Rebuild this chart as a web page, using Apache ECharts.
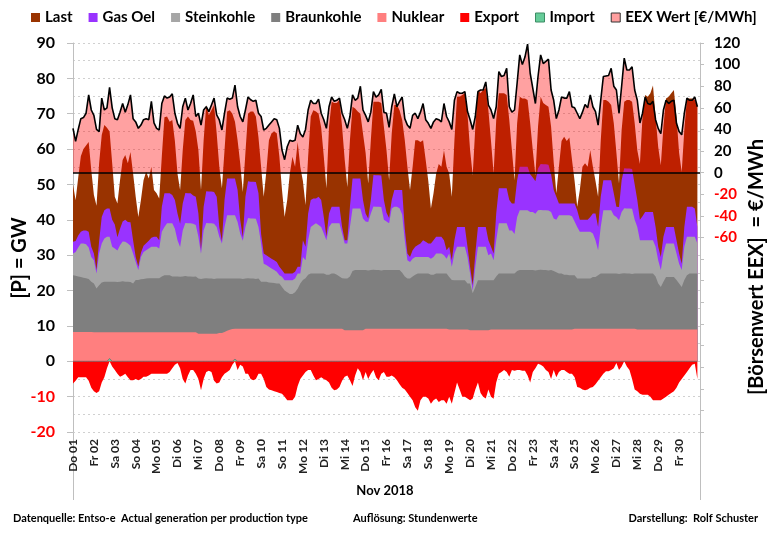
<!DOCTYPE html>
<html><head><meta charset="utf-8">
<script src="https://cdn.jsdelivr.net/npm/echarts@6/dist/echarts.min.js"></script>
<style>html,body{margin:0;padding:0;background:#fff}#c{width:777px;height:540px}</style>
</head><body><div id="c"></div>
<script>
// Day tick labels (November 2018), one per day start
const dayLabels = ['Do 01','Fr 02','Sa 03','So 04','Mo 05','Di 06','Mi 07','Do 08','Fr 09','Sa 10',
  'So 11','Mo 12','Di 13','Mi 14','Do 15','Fr 16','Sa 17','So 18','Mo 19','Di 20',
  'Mi 21','Do 22','Fr 23','Sa 24','So 25','Mo 26','Di 27','Mi 28','Do 29','Fr 30'];

// 3-hourly samples (00,03,06,09,12,15,18,21 h) per day, GW
const nuklear = [
8.3,8.3,8.3,8.3,8.3,8.3,8.3,8.3,
8.2,8.2,8.2,8.2,8.2,8.2,8.2,8.2,
8.2,8.2,8.2,8.2,8.2,8.2,8.2,8.2,
8.2,8.2,8.2,8.2,8.2,8.2,8.2,8.2,
8.2,8.2,8.2,8.2,8.2,8.2,8.2,8.2,
8.2,8.2,8.2,8.2,8.2,8.2,8.2,8.2,
7.8,7.8,7.8,7.8,7.8,7.8,7.8,7.8,
8.0,8.0,8.3,8.6,8.9,9.1,9.2,9.2,
9.2,9.2,9.2,9.2,9.2,9.2,9.2,9.2,
9.2,9.2,9.2,9.2,9.2,9.2,9.2,9.2,
9.2,9.2,9.2,9.2,9.2,9.2,9.2,9.2,
9.2,9.2,9.2,9.2,9.2,9.2,9.2,9.2,
9.2,9.2,9.2,9.2,9.2,9.2,9.2,9.2,
8.8,8.8,8.8,8.8,8.8,8.8,8.8,8.8,
9.2,9.2,9.2,9.2,9.2,9.2,9.2,9.2,
9.2,9.2,9.2,9.2,9.2,9.2,9.2,9.2,
9.2,9.2,9.2,9.2,9.2,9.2,9.2,9.2,
9.2,9.2,9.2,9.2,9.2,9.2,9.2,9.2,
9.0,9.0,9.0,9.0,9.0,9.0,9.0,9.0,
8.8,8.8,8.8,8.8,8.8,8.8,8.8,8.8,
9.0,9.0,9.0,9.0,9.0,9.0,9.0,9.0,
9.0,9.0,9.0,9.0,9.0,9.0,9.0,9.0,
9.0,9.0,9.0,9.0,9.0,9.0,9.0,9.0,
9.0,9.0,9.0,9.0,9.0,9.0,9.0,9.0,
9.2,9.2,9.2,9.2,9.2,9.2,9.2,9.2,
9.2,9.2,9.2,9.2,9.2,9.2,9.2,9.2,
9.2,9.2,9.2,9.2,9.2,9.2,9.2,9.2,
9.0,9.0,9.0,9.0,9.0,9.0,9.0,9.0,
9.0,9.0,9.0,9.0,9.0,9.0,9.0,9.0,
9.0,9.0,9.0,9.0,9.0,9.0,9.0,9.0];

const braunkohle = [
16.0,15.9,15.7,15.5,15.3,15.2,15.0,14.2,
13.8,12.4,13.3,14.1,14.3,14.3,14.3,14.3,
14.3,14.2,14.3,14.4,14.3,14.3,14.2,13.8,
14.8,14.8,15.0,15.1,15.2,15.3,15.3,15.3,
15.3,15.3,15.8,16.1,16.1,16.1,15.8,15.8,
15.8,15.7,15.8,15.9,15.8,15.8,15.7,15.8,
15.6,15.5,15.6,15.7,15.6,15.6,15.5,15.6,
15.4,15.4,15.1,14.8,14.5,14.3,14.2,14.2,
14.2,14.1,14.2,14.3,14.2,14.2,14.1,14.2,
13.3,13.3,13.3,13.1,13.0,12.9,12.8,12.8,
11.8,10.8,10.3,9.8,9.8,10.3,11.3,12.8,
13.8,14.3,15.3,15.6,15.6,15.6,15.6,15.6,
15.6,15.3,15.3,15.6,15.6,15.3,14.8,14.3,
14.6,14.6,15.2,16.7,17.0,17.0,17.0,17.0,
16.6,16.5,16.6,16.7,16.6,16.6,16.5,16.6,
16.6,16.6,16.6,16.6,16.6,16.6,15.8,14.8,
14.2,14.2,14.8,15.3,15.6,15.6,15.6,15.6,
15.6,15.3,15.3,15.6,15.6,15.6,15.6,15.6,
14.8,14.0,13.9,13.9,13.9,13.9,13.9,13.0,
13.2,10.4,12.2,14.1,14.1,14.1,14.1,14.1,
13.9,13.9,15.0,15.8,15.8,15.8,15.8,15.8,
15.8,15.8,16.5,16.8,16.8,16.8,16.8,16.8,
16.8,16.7,16.8,16.9,16.8,16.8,16.7,16.8,
16.5,16.2,15.8,15.8,15.5,15.5,15.3,15.3,
15.1,14.2,14.2,14.2,14.2,14.2,14.2,14.6,
14.6,15.1,15.6,15.6,15.6,15.6,15.6,15.6,
15.6,15.5,15.6,15.7,15.6,15.6,15.5,15.6,
15.8,15.8,15.8,15.8,15.8,15.8,15.8,15.0,
13.0,12.0,13.5,14.8,14.8,14.8,14.8,14.0,
13.0,12.0,14.0,15.3,15.8,15.8,15.8,15.8];

const steinkohle = [
6.2,6.7,8.2,9.5,9.7,9.6,8.9,7.0,
6.6,4.2,9.0,11.0,12.2,12.7,12.7,9.9,
9.4,8.9,10.3,11.3,11.3,10.8,10.3,8.5,
5.1,2.8,6.3,7.6,8.0,8.4,8.9,8.9,
8.9,8.4,12.6,13.7,14.7,14.7,15.0,13.5,
10.2,8.4,13.0,15.0,15.0,15.0,15.0,14.5,
11.8,7.1,13.6,15.6,15.6,15.6,15.6,14.6,
11.8,9.9,14.6,17.9,17.9,17.9,17.9,16.0,
12.7,10.8,14.6,17.0,17.0,17.0,17.0,14.6,
10.8,5.1,4.7,4.4,4.0,3.7,3.3,2.3,
2.9,2.9,3.4,3.9,3.9,3.9,4.3,2.8,
6.5,5.1,9.7,13.2,13.7,14.2,13.7,13.2,
11.3,9.7,13.5,14.2,14.2,14.5,15.0,12.6,
9.9,9.9,14.0,17.7,17.4,17.4,17.4,14.6,
13.7,13.7,16.0,17.9,17.9,17.9,17.9,14.2,
13.7,13.2,17.4,17.9,17.9,17.5,16.5,10.2,
5.2,4.7,5.0,5.0,4.7,4.7,4.7,4.7,
4.7,4.5,5.0,5.7,5.7,5.7,5.2,4.2,
6.7,3.7,7.6,9.5,9.5,9.5,9.5,7.5,
2.8,0.8,5.7,9.5,9.5,9.5,9.5,7.1,
7.6,5.7,10.2,14.2,14.2,14.2,14.2,12.2,
12.2,11.2,15.3,16.9,16.9,16.9,16.9,16.4,
16.4,16.0,16.9,16.9,16.9,16.9,16.9,16.4,
14.9,14.8,16.5,16.5,16.8,16.8,17.0,16.7,
15.2,14.6,13.2,13.2,13.2,13.2,13.2,12.3,
10.4,7.1,13.2,17.9,17.9,17.9,17.9,16.5,
16.0,15.2,17.4,18.4,18.4,18.4,18.4,15.2,
13.2,9.4,9.4,9.4,9.4,9.4,9.4,8.4,
6.6,4.8,8.0,9.5,9.5,9.5,9.5,7.5,
5.6,4.8,9.4,10.9,10.4,10.4,10.4,8.5];

const gasOel = [
3.3,3.1,3.4,3.3,3.7,3.9,4.4,2.9,
1.9,1.0,3.5,7.5,8.0,8.0,8.0,7.6,
6.8,3.8,4.7,5.6,6.2,6.1,6.6,3.7,
1.4,1.0,1.2,1.8,2.0,2.2,2.5,2.8,
2.8,2.3,7.1,9.5,8.5,8.5,8.0,8.1,
7.6,6.6,7.6,8.5,8.5,8.5,8.0,8.0,
6.6,0.9,6.7,9.0,9.0,9.0,9.0,8.5,
2.8,0.7,7.6,10.4,10.4,10.4,10.4,9.0,
3.9,1.0,8.5,10.4,10.4,10.4,10.4,9.5,
2.7,2.9,2.8,2.8,2.8,2.8,2.8,2.4,
1.9,1.9,1.9,1.9,1.9,1.9,1.9,1.9,
4.7,3.8,7.6,7.6,7.5,7.0,8.0,7.6,
4.7,1.0,3.8,4.7,4.7,4.7,4.7,1.9,
0.9,0.9,5.7,8.5,8.5,8.5,8.5,5.2,
2.3,1.0,3.8,8.9,8.9,8.9,8.9,5.6,
2.5,1.5,2.4,4.7,4.7,5.1,6.9,3.3,
1.9,1.4,2.4,2.9,3.4,3.8,4.7,4.3,
3.8,4.3,4.7,4.7,4.7,4.7,4.2,2.4,
1.9,1.9,3.7,5.6,5.6,5.6,5.6,2.9,
1.9,1.5,3.8,5.6,5.6,5.6,5.6,4.2,
1.9,1.9,7.6,9.9,9.9,9.9,9.9,8.6,
7.6,8.6,10.4,12.3,12.3,12.3,12.3,10.7,
9.8,9.2,11.8,13.0,13.0,13.0,13.0,10.7,
8.0,6.5,3.3,3.3,3.3,3.3,3.3,3.6,
5.1,4.7,3.4,3.4,3.4,3.4,4.2,5.7,
7.6,6.6,8.5,8.5,8.5,8.5,8.5,6.2,
2.9,3.7,9.0,11.3,11.3,11.3,11.3,10.0,
7.6,5.8,6.8,8.0,8.0,8.0,8.0,5.6,
3.8,3.7,4.7,4.7,4.7,4.7,4.7,3.7,
2.9,1.8,5.6,8.5,8.5,8.5,8.0,4.7];

// Total load (Last), GW
const last = [
50,45.5,52,58,60,61,62,54,
47,44,56,64,66.8,66,65,56,
46.5,44.6,51.2,56.9,58.3,56,59.2,53.1,
46.5,40.8,45.6,51.2,53.6,51.7,55,48.4,
47.5,46,58,69,69.2,67.7,68.2,62.3,
53,48.4,59.7,68.2,69.2,68.2,68,65,
59.7,48.4,62.5,72.5,69.6,71,72.5,64.4,
55,48.9,59.7,70.6,71,70,67.7,62.5,
56,47.9,59,70,70.6,70.6,69.2,63.3,
55,46.5,53.6,62.5,64.5,65,64.5,57.8,
48.4,40.8,45.6,53.1,57.8,55,62,55,
51,44.2,57.8,69.2,71,70.6,70,66,
57.8,48.9,66.3,73.4,73,73,73.9,66.3,
57,49.3,62.5,72,71.5,70.6,70,64.4,
59,50.3,62.5,73.4,73.4,73.4,73,66.3,
59.7,51.2,64.4,72.5,72.5,71,68.2,62.5,
55,48.4,55,62.5,62.5,62,62.5,56.9,
51,43.2,47.5,53,55.8,55,59.7,55,
53.1,46.5,62.5,74.8,74.8,75.3,75.8,70,
59.7,52.6,66.3,76.7,75.8,76.7,77.2,71,
62.3,53.1,68.2,75.8,75.8,75.8,75.3,68.2,
59.7,51.2,67.3,74.8,74.3,74.3,73.9,67.3,
59.7,52.5,66.3,74.8,73,72.5,72,66.3,
56.3,47.5,55,62.3,63.5,62.3,63.3,57,
51,43.7,48.4,55,56,55,59.7,55,
51,46.5,62.3,73.9,73.9,73.4,72.5,67.3,
59,50.3,65.4,73.4,73.9,73.9,73.4,67.3,
59.7,55.8,69.2,75.3,74.8,75.8,78,69.2,
60.6,55.4,66.3,74.3,74.8,75.8,76.7,69.2,
59,53.5,65.4,74.3,74.3,74.3,73.9,72];

// Export (negative), GW
const exportGW = [
-6.3,-5.5,-4.5,-4.5,-4.5,-4.5,-5.5,-7.5,
-8.5,-9,-8.5,-6,-4.5,-2,0,-1.5,
-2.5,-3.5,-4.4,-4,-3.5,-4.5,-5.4,-5.4,
-5,-5.4,-5,-4.4,-4.4,-4,-3.5,-3.5,
-3.5,-3.5,-3.5,-3.5,-3.5,-3,-2,-1,
-0.5,-2,-5,-6.3,-4,-2.5,-2.5,-3.5,
-5,-8.2,-5,-3,-2.7,-3,-5.5,-6.3,
-6,-4.5,-3.5,-3,-2.5,-1,0,-2.5,
-1,-1.5,-3.5,-3.5,-5,-5.4,-5,-3.5,
-3.5,-5,-7.3,-8,-8.2,-8.5,-8.7,-9,
-9.2,-10,-11,-11,-11,-10,-7,-5,
-4,-3,-2.5,-2.5,-4,-5.4,-5,-4.5,
-5,-5.4,-6,-7.5,-8.2,-8,-7.3,-5.5,
-4.4,-4,-5.4,-7,-4,-2,-3,-5.4,
-3,-5,-3.5,-2.5,-4.5,-5.4,-3.5,-3,
-4.4,-4.4,-4,-4.5,-5.4,-6.5,-7.5,-8,
-9,-10,-11,-13,-14,-11,-10,-10,
-10.5,-12,-11,-10.5,-11.5,-11,-11,-12,
-10,-12,-9,-6,-8,-10,-10,-10.5,
-11,-10.5,-8,-6,-9,-10,-10.5,-8,
-10,-10.6,-6,-3.5,-3,-2.5,-3,-4.4,
-2.5,-2.7,-2.5,-2.5,-2.7,-2.7,-4,-6,
-3,-2,-0.7,-1,-1.5,-2.5,-3,-5,
-2.5,-4.5,-3,-2.5,-2.5,-3,-3.5,-3.5,
-4.5,-7.3,-7.5,-8,-8.2,-8,-7.5,-7.3,
-6.5,-5.5,-4.5,-3.5,-2.8,-2.8,-2.5,-2,
-0.5,-2.5,-1.5,0,-1.5,-2.5,-5,-8,
-8.5,-9.2,-9.5,-9.5,-9.5,-10,-11,-11,
-11,-11,-10.5,-10,-9.5,-9,-8.5,-7.5,
-6,-5,-4,-3,-2,-1,-0.7,-5];

// Import (positive), GW
const importGW = [
0,0,0,0,0,0,0,0,
0,0,0,0,0,0,0.8,0,
0,0,0,0,0,0,0,0,
0,0,0,0,0,0,0,0,
0,0,0,0,0,0,0,0,
0,0,0,0,0,0,0,0,
0,0,0,0,0,0,0,0,
0,0,0,0,0,0,0.6,0,
0,0,0,0,0,0,0,0,
0,0,0,0,0,0,0,0,
0,0,0,0,0,0,0,0,
0,0,0,0,0,0,0,0,
0,0,0,0,0,0,0,0,
0,0,0,0,0,0,0,0,
0,0,0,0,0,0,0,0,
0,0,0,0,0,0,0,0,
0,0,0,0,0,0,0,0,
0,0,0,0,0,0,0,0,
0,0,0,0,0,0,0,0,
0,0,0,0,0,0,0,0,
0,0,0,0,0,0,0,0,
0,0,0,0,0,0,0,0,
0,0,0,0,0,0,0,0,
0,0,0,0,0,0,0,0,
0,0,0,0,0,0,0,0,
0,0,0,0,0,0,0,0,
0,0,0,0,0,0,0,0,
0,0,0,0,0,0,0,0,
0,0,0,0,0,0,0,0,
0,0,0,0,0,0,0,0];

// EEX spot price, EUR/MWh
const eexWert = [
41,29,40,50,51,55,72,58,
53,40,38,69,58,60,79,60,
50,49,56,64,56,63,72,50,
47,41,44,49,50,49,66,46,
41,39.5,64,71,69,70,73,55,
45.7,41,61,69,58,64,72,52,
55,44,58,61,56.5,62.7,69,53.4,
48.8,39.5,55,69,68,69,81,61,
52,47,58,70,67.5,66,67,55,
52,39.5,41,44,47,50,49,41,
21,12,24,30,29,30,44,36,
33,40,58,67,64,64,68,55,
49,41,61,70,66,67,69,55,
49,41,52,72,67,69,80,58,
53,47,56,75,70,72,77,56,
55,42,61,73,61,66,70,50,
44,41,53,55,50,56,64,49,
45.7,41,47,50,49,47,64,52,
47,40,67,75,73.5,73.5,75,56.5,
49,40,52,75,76.5,76.5,84,62.6,
58,50,61,93.5,89,90,96.6,61,
56,58,83,109,100,107,119,92,
78,64,89,109,101,103,105,76.5,
67,50,58,70,69,69,75,61,
60,55,50,56,63,60,72,61,
56.5,44,67,89,89.5,90,96.6,80,
76.5,55,80,106,95,95,98,76.5,
67,46,55,70,64,63,66,49,
41,36,58,67,64,66,67,45.7,
38,35,55,69,67,67,70,61];

const FONT = 'Lato, "Liberation Sans", sans-serif';
const STEP_H = 3;
const hours = last.map((_, i) => i * STEP_H);
const pair = arr => arr.map((v, i) => [hours[i], v]);
// cumulative tops of the generation stack (drawn as overlapping areas from 0)
const cum = (...arrs) => arrs[0].map((_, i) => +arrs.reduce((s, a) => s + a[i], 0).toFixed(2));
const topNuk = cum(nuklear);
const topBraun = cum(nuklear, braunkohle);
const topStein = cum(nuklear, braunkohle, steinkohle);
const topGas = cum(nuklear, braunkohle, steinkohle, gasOel);

function areaSeries(name, data, color, z) {
  return {
    name, type: 'line', data: pair(data), symbol: 'none', showSymbol: false,
    lineStyle: { width: 0 }, itemStyle: { color }, areaStyle: { color, opacity: 1 },
    emphasis: { disabled: true }, z: z, silent: true
  };
}

const chart = echarts.init(document.getElementById('c'), null, { renderer: 'canvas' });
chart.setOption({
  animation: false,
  backgroundColor: '#fff',
  textStyle: { fontFamily: FONT },
  legend: {
    top: 5, left: 26, icon: 'rect', itemWidth: 9, itemHeight: 9, itemGap: 16,
    textStyle: { fontSize: 15, fontWeight: 'bold', color: '#000', fontFamily: FONT },
    data: [
      { name: 'Last' }, { name: 'Gas Oel' }, { name: 'Steinkohle' }, { name: 'Braunkohle' },
      { name: 'Nuklear' }, { name: 'Export' },
      { name: 'Import', itemStyle: { color: '#66CC99', borderColor: '#3C8C64', borderWidth: 1 } },
      { name: 'EEX Wert [€/MWh]', itemStyle: { color: '#FF9F9F', borderColor: '#333', borderWidth: 1 } }
    ]
  },
  grid: { left: 73, right: 77, top: 43, bottom: 108, containLabel: false },
  xAxis: {
    type: 'value', min: 0, max: 720, interval: 24,
    axisLine: { show: false }, axisTick: { show: false }, splitLine: { show: false },
    axisLabel: {
      rotate: 90, margin: 7, fontSize: 12, fontWeight: 'bold', color: '#222', fontFamily: FONT,
      formatter: v => dayLabels[Math.round(v / 24)] || ''
    }
  },
  yAxis: [
    {
      type: 'value', min: -20, max: 90, interval: 10,
      axisLine: { show: true, lineStyle: { color: '#BFBFBF' } },
      axisTick: { show: true, length: 6, lineStyle: { color: '#BFBFBF' } },
      axisLabel: { margin: 18, fontSize: 16, fontWeight: 'bold', fontFamily: FONT,
        color: v => (v < 0 ? '#FF0000' : '#000') },
      splitLine: { show: true, lineStyle: { type: [2, 3], color: '#D0D0D0' } },
      minorTick: { show: false, splitNumber: 2 },
      minorSplitLine: { show: true, lineStyle: { type: [2, 3], color: '#D0D0D0' } }
    },
    {
      type: 'value', min: -240, max: 120, interval: 20, position: 'right',
      axisLine: { show: true, lineStyle: { color: '#BFBFBF' } },
      axisTick: { show: true, length: 4, lineStyle: { color: '#BFBFBF' } },
      axisLabel: { margin: 14, fontSize: 15, fontWeight: 'bold', fontFamily: FONT,
        formatter: v => (v >= -60 ? String(v) : ''),
        color: v => (v < 0 ? '#FF0000' : '#000') },
      splitLine: { show: false }
    }
  ],
  series: [
    areaSeries('Last', last, '#993300', 2),
    areaSeries('Gas Oel', topGas, '#9933FF', 2),
    areaSeries('Steinkohle', topStein, '#A6A6A6', 2),
    areaSeries('Braunkohle', topBraun, '#7F7F7F', 2),
    areaSeries('Nuklear', topNuk, '#FF7F7F', 2),
    areaSeries('Export', exportGW, '#FF0000', 2),
    Object.assign(areaSeries('Import', importGW, '#66CC99', 2), {
      lineStyle: { width: 0.8, color: '#707070' }
    }),
    {
      name: 'EEX Wert [€/MWh]', type: 'line', yAxisIndex: 1, data: pair(eexWert),
      symbol: 'none', showSymbol: false, z: 4, silent: true,
      itemStyle: { color: '#FF9F9F' },
      lineStyle: { color: '#000', width: 1.6 },
      areaStyle: { color: 'rgba(255,0,0,0.37)', opacity: 1 },
      emphasis: { disabled: true },
      markLine: {
        silent: true, symbol: 'none', label: { show: false },
        lineStyle: { color: '#000', width: 1.6, type: 'solid' },
        data: [{ yAxis: 0 }]
      }
    }
  ],
  graphic: [
    { type: 'line', shape: { x1: 73.5, y1: 432, x2: 73.5, y2: 500 }, style: { stroke: '#BFBFBF', lineWidth: 1 } },
    { type: 'line', shape: { x1: 700.5, y1: 432, x2: 700.5, y2: 500 }, style: { stroke: '#BFBFBF', lineWidth: 1 } },
    { type: 'text', x: 20, y: 258, rotation: Math.PI / 2,
      style: { text: '[P] = GW', font: 'bold 20px ' + FONT, fill: '#000', align: 'center', verticalAlign: 'middle' } },
    { type: 'text', x: 757, y: 267, rotation: Math.PI / 2,
      style: { text: '[Börsenwert EEX]  = €/MWh', font: 'bold 20px ' + FONT, fill: '#000', align: 'center', verticalAlign: 'middle' } },
    { type: 'text', x: 385, y: 491,
      style: { text: 'Nov 2018', font: 'bold 13px ' + FONT, fill: '#000', align: 'center', verticalAlign: 'middle' } },
    { type: 'text', x: 13, y: 518,
      style: { text: 'Datenquelle: Entso-e  Actual generation per production type', font: 'bold 11px ' + FONT, fill: '#000', align: 'left', verticalAlign: 'middle' } },
    { type: 'text', x: 353, y: 518,
      style: { text: 'Auflösung: Stundenwerte', font: 'bold 11px ' + FONT, fill: '#000', align: 'left', verticalAlign: 'middle' } },
    { type: 'text', x: 758, y: 518,
      style: { text: 'Darstellung:  Rolf Schuster', font: 'bold 11px ' + FONT, fill: '#000', align: 'right', verticalAlign: 'middle' } }
  ]
});
</script>
</body></html>
